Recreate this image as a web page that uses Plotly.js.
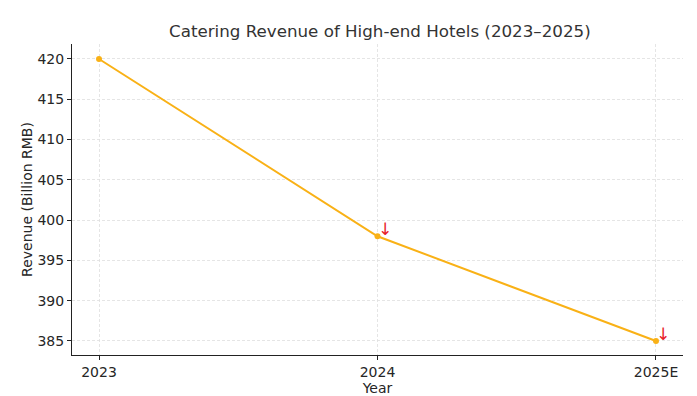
<!DOCTYPE html>
<html><head><meta charset="utf-8">
<script src="https://cdn.plot.ly/plotly-3.0.1.min.js"></script>
<style>html,body{margin:0;padding:0;background:#fff}</style>
</head><body><div id="chart" style="width:697px;height:396px"></div>
<script>
const years = ["2023", "2024", "2025E"];
const revenue = [420, 398, 385];
const arrowYears = ["2024", "2025E"];
const arrowValues = [398, 385];
const arrowText = ["↓", "↓"];

const lineColor = "#F9B116";
const trace = {
  x: years, y: revenue, type: "scatter", mode: "lines+markers",
  line: {color: lineColor, width: 2}, marker: {color: lineColor, size: 6},
  hoverinfo: "skip"
};
const annotations = arrowYears.map((yr, i) => ({
  x: years.indexOf(yr), y: arrowValues[i], xref: "x", yref: "y", text: arrowText[i],
  showarrow: false, xshift: 7, yshift: 7, font: {color: "#E8202A", size: 17, family: "DejaVu Sans"}
}));
const layout = {
  width: 697, height: 396,
  margin: {l: 72, r: 14, t: 44, b: 41},
  paper_bgcolor: "#fff", plot_bgcolor: "#fff",
  font: {family: "DejaVu Sans", color: "#262626", size: 14},
  title: {text: "Catering Revenue of High-end Hotels (2023–2025)", x: 0.545, xanchor: "center", y: 0.935, yanchor: "top", font: {size: 16.7, color: "#333"}},
  xaxis: {
    type: "category", range: [-0.097, 2.097],
    title: {text: "Year", standoff: 2, font: {size: 14}},
    showline: true, linecolor: "#222", linewidth: 1, mirror: false,
    ticks: "outside", ticklen: 4, tickcolor: "#222",
    showgrid: true, gridcolor: "#dedede", griddash: "3px,2px", gridwidth: 0.8,
    zeroline: false, tickfont: {size: 14}
  },
  yaxis: {
    range: [383.26, 421.86], dtick: 5, tick0: 385,
    title: {text: "Revenue (Billion RMB)", standoff: 1, font: {size: 14}},
    showline: true, linecolor: "#222", linewidth: 1,
    ticks: "outside", ticklen: 4, tickcolor: "#222",
    showgrid: true, gridcolor: "#dedede", griddash: "3px,2px", gridwidth: 0.8,
    zeroline: false, tickfont: {size: 14}
  },
  annotations: annotations,
  showlegend: false
};
Plotly.newPlot("chart", [trace], layout, {displayModeBar: false, staticPlot: true});
</script></body></html>
